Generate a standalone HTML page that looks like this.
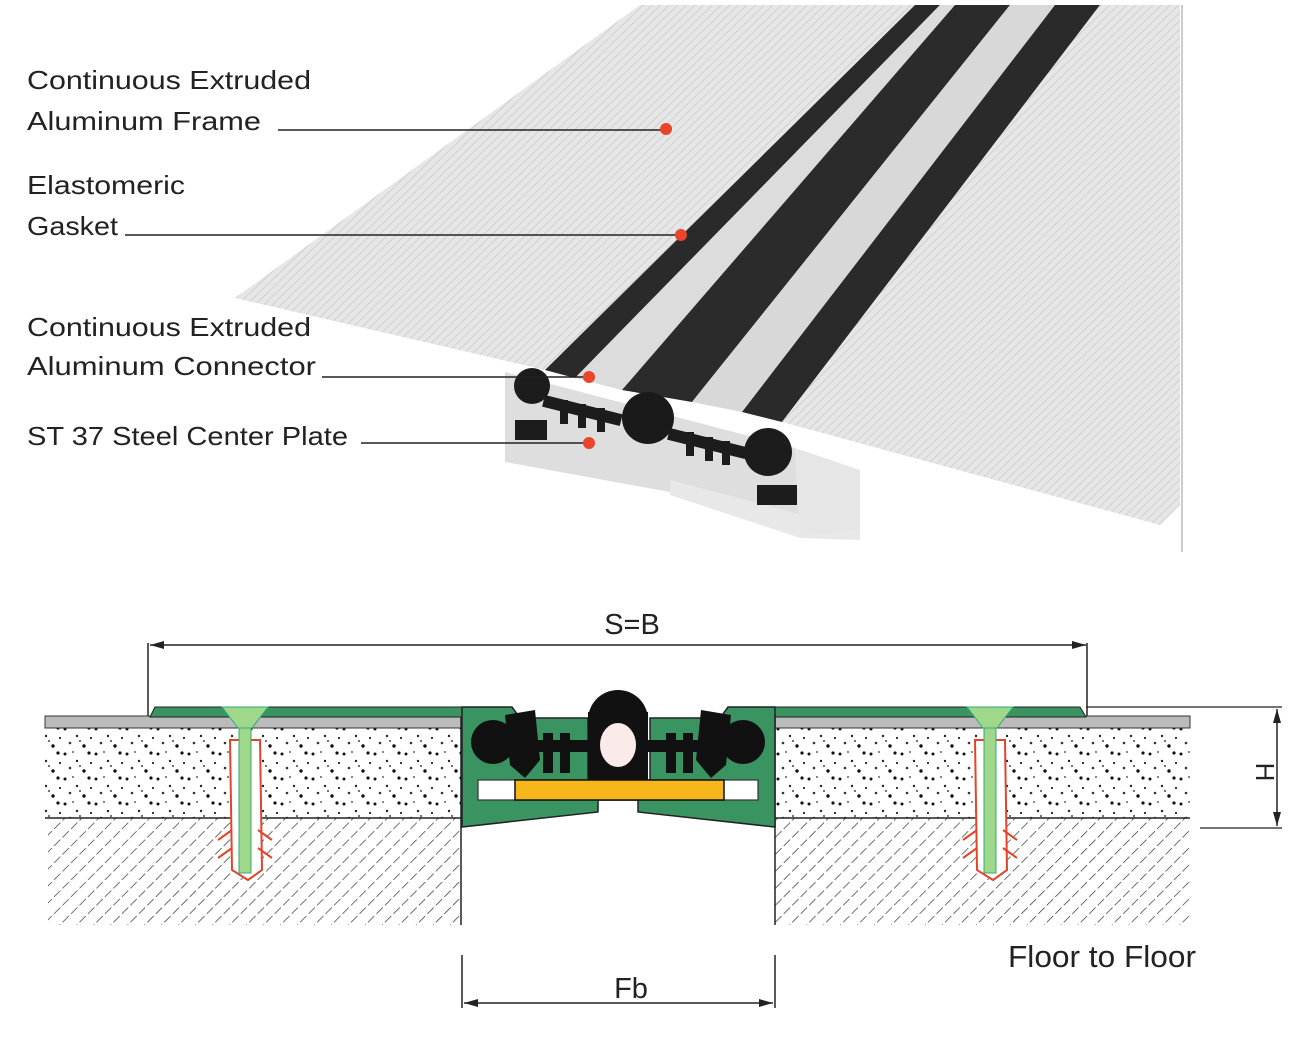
<!DOCTYPE html>
<html><head><style>
html,body{margin:0;padding:0;background:#fff;}
svg{display:block;}
text{font-family:"Liberation Sans",sans-serif;}
</style></head><body>
<svg width="1308" height="1037" viewBox="0 0 1308 1037" xmlns="http://www.w3.org/2000/svg">
<defs>
<pattern id="hatch" width="12" height="12" patternUnits="userSpaceOnUse" patternTransform="rotate(45)">
<line x1="0" y1="0" x2="0" y2="12" stroke="#333" stroke-width="1.4" stroke-dasharray="8,3"/>
</pattern>
<pattern id="speck" width="31" height="25" patternUnits="userSpaceOnUse">
<rect width="31" height="25" fill="#fff"/>
<circle cx="3" cy="4" r="1.5" fill="#111"/><circle cx="15" cy="11" r="1.2" fill="#222"/>
<circle cx="27" cy="3" r="1.6" fill="#111"/><circle cx="8" cy="18" r="1.3" fill="#333"/>
<circle cx="22" cy="21" r="1.7" fill="#111"/><circle cx="29" cy="13" r="1.1" fill="#222"/>
<circle cx="18" cy="16" r="1" fill="#444"/><circle cx="11" cy="2" r="0.9" fill="#333"/>
</pattern>
<pattern id="ribs" width="6" height="6" patternUnits="userSpaceOnUse" patternTransform="rotate(-44)">
<rect width="6" height="6" fill="#e6e6e6"/><line x1="0" y1="0" x2="6" y2="0" stroke="#d0d0d0" stroke-width="2"/>
</pattern>
<marker id="ar" markerWidth="14" markerHeight="8" refX="14" refY="4" orient="auto-start-reverse" markerUnits="userSpaceOnUse">
<path d="M0,0 L14,4 L0,8 z" fill="#222"/>
</marker>
</defs>

<polygon points="640,5 915,5 545,370 235,298" fill="url(#ribs)"/>
<polygon points="915,5 940,5 575,378 545,370" fill="#2a2a2a"/>
<polygon points="940,5 955,5 622,390 575,378" fill="#dcdcdc"/>
<polygon points="955,5 1010,5 692,402 622,390" fill="#2b2b2b"/>
<polygon points="1010,5 1055,5 742,412 692,402" fill="#d8d8d8"/>
<polygon points="1055,5 1100,5 782,422 742,412" fill="#2a2a2a"/>
<polygon points="1100,5 1180,5 1180,505 1160,525 782,422" fill="url(#ribs)"/>
<line x1="1182" y1="5" x2="1182" y2="552" stroke="#ccc" stroke-width="2"/>
<polygon points="505,372 795,448 800,535 670,492 505,462" fill="#dedede"/>
<polygon points="670,480 860,530 860,540 800,538 670,495" fill="#e8e8e8"/>
<polygon points="795,448 860,470 860,530 800,535" fill="#e6e6e6"/>
<circle cx="532" cy="386" r="18" fill="#1c1c1c"/>
<rect x="545" y="395" width="80" height="12" fill="#1c1c1c" transform="rotate(14 545 395)"/>
<rect x="560" y="400" width="8" height="24" fill="#1c1c1c"/><rect x="578" y="404" width="8" height="24" fill="#1c1c1c"/><rect x="597" y="408" width="8" height="24" fill="#1c1c1c"/>
<circle cx="648" cy="418" r="26" fill="#1a1a1a"/>
<rect x="670" y="428" width="80" height="12" fill="#1c1c1c" transform="rotate(14 670 428)"/>
<rect x="686" y="432" width="8" height="24" fill="#1c1c1c"/><rect x="705" y="437" width="8" height="24" fill="#1c1c1c"/><rect x="722" y="441" width="8" height="24" fill="#1c1c1c"/>
<circle cx="768" cy="452" r="24" fill="#1c1c1c"/>
<rect x="515" y="420" width="32" height="20" fill="#1c1c1c"/>
<rect x="757" y="485" width="40" height="20" fill="#1c1c1c"/>

<g font-size="26" fill="#222" lengthAdjust="spacingAndGlyphs">
<text x="27" y="89" textLength="284" lengthAdjust="spacingAndGlyphs">Continuous Extruded</text>
<text x="27" y="130" textLength="234" lengthAdjust="spacingAndGlyphs">Aluminum Frame</text>
<text x="27" y="194" textLength="158" lengthAdjust="spacingAndGlyphs">Elastomeric</text>
<text x="27" y="235" textLength="91" lengthAdjust="spacingAndGlyphs">Gasket</text>
<text x="27" y="336" textLength="284" lengthAdjust="spacingAndGlyphs">Continuous Extruded</text>
<text x="27" y="375" textLength="289" lengthAdjust="spacingAndGlyphs">Aluminum Connector</text>
<text x="27" y="445" textLength="321" lengthAdjust="spacingAndGlyphs">ST 37 Steel Center Plate</text>
</g>
<g stroke="#222" stroke-width="1.6">
<line x1="278" y1="130" x2="665" y2="130"/>
<line x1="125" y1="235" x2="680" y2="235"/>
<line x1="322" y1="377" x2="588" y2="377"/>
<line x1="361" y1="443" x2="588" y2="443"/>
</g>
<g fill="#e8452b">
<circle cx="666" cy="129" r="6"/><circle cx="681" cy="235" r="6"/><circle cx="589" cy="377" r="6"/><circle cx="589" cy="443" r="6"/>
</g>

<text x="632" y="634" font-size="29" text-anchor="middle" fill="#222">S=B</text>
<line x1="150" y1="645" x2="1086" y2="645" stroke="#222" stroke-width="1.5" marker-start="url(#ar)" marker-end="url(#ar)"/>
<line x1="148" y1="643" x2="148" y2="716" stroke="#222" stroke-width="1.5"/>
<line x1="1087" y1="643" x2="1087" y2="716" stroke="#222" stroke-width="1.5"/>

<rect x="45" y="728" width="416" height="90" fill="url(#speck)"/>
<rect x="775" y="728" width="415" height="90" fill="url(#speck)"/>
<rect x="48" y="818" width="413" height="107" fill="url(#hatch)"/>
<rect x="775" y="818" width="415" height="107" fill="url(#hatch)"/>
<rect x="45" y="716" width="416" height="12" fill="#bbb" stroke="#333" stroke-width="1"/>
<rect x="775" y="716" width="415" height="12" fill="#bbb" stroke="#333" stroke-width="1"/>
<line x1="45" y1="818" x2="461" y2="818" stroke="#222" stroke-width="1.5"/>
<line x1="775" y1="818" x2="1190" y2="818" stroke="#222" stroke-width="1.5"/>
<line x1="461" y1="716" x2="461" y2="925" stroke="#222" stroke-width="1.5"/>
<line x1="775" y1="716" x2="775" y2="925" stroke="#222" stroke-width="1.5"/>
<path d="M150,717 L155,707 L462,707 L462,717 Z" fill="#3a9462" stroke="#222" stroke-width="1"/>
<path d="M775,707 L1080,707 L1086,717 L775,717 Z" fill="#3a9462" stroke="#222" stroke-width="1"/>
<g>
<path d="M222,707 L268,707 L252,728 L238,728 Z" fill="#9fd88a" stroke="#3a7" stroke-width="1"/>
<path d="M230,740 L260,740 L262,870 L248,880 L232,870 Z" fill="#fff" stroke="#e3442a" stroke-width="2"/>
<path d="M232,830 l-14,10 M258,830 l14,10 M232,848 l-14,10 M258,848 l14,10" stroke="#e3442a" stroke-width="2"/>
<rect x="239" y="728" width="12" height="145" fill="#9fd88a" stroke="#3a7"/>
<path d="M967,707 L1013,707 L997,728 L983,728 Z" fill="#9fd88a" stroke="#3a7" stroke-width="1"/>
<path d="M975,740 L1005,740 L1007,870 L993,880 L977,870 Z" fill="#fff" stroke="#e3442a" stroke-width="2"/>
<path d="M977,830 l-14,10 M1003,830 l14,10 M977,848 l-14,10 M1003,848 l14,10" stroke="#e3442a" stroke-width="2"/>
<rect x="984" y="728" width="12" height="145" fill="#9fd88a" stroke="#3a7"/>
</g>
<path d="M462,707 L512,707 L520,718 L588,718 L588,780 L650,780 L650,718 L720,718 L728,707 L775,707 L775,827 L638,812 L638,800 L598,800 L598,812 L462,827 Z" fill="#3a9462" stroke="#222" stroke-width="1.5"/>
<rect x="478" y="780" width="280" height="20" fill="#fff" stroke="#333" stroke-width="1.2"/>
<rect x="515" y="780" width="209" height="20" fill="#f7b61b" stroke="#111" stroke-width="1.5"/>
<circle cx="493" cy="742" r="22" fill="#111"/>
<path d="M505,715 L535,710 L540,760 L525,778 L510,765 Z" fill="#111"/>
<circle cx="743" cy="742" r="22" fill="#111"/>
<path d="M731,715 L701,710 L696,760 L711,778 L726,765 Z" fill="#111"/>
<rect x="535" y="740" width="55" height="12" fill="#111"/>
<rect x="645" y="740" width="55" height="12" fill="#111"/>
<rect x="543" y="733" width="10" height="40" fill="#111"/><rect x="560" y="733" width="10" height="40" fill="#111"/>
<rect x="666" y="733" width="10" height="40" fill="#111"/><rect x="683" y="733" width="10" height="40" fill="#111"/>
<rect x="588" y="712" width="60" height="68" fill="#111"/>
<circle cx="618" cy="720" r="30" fill="#111"/>
<ellipse cx="618" cy="745" rx="18" ry="22" fill="#fbeaea"/>

<line x1="1086" y1="707" x2="1282" y2="707" stroke="#222" stroke-width="1.3"/>
<line x1="1200" y1="828" x2="1282" y2="828" stroke="#222" stroke-width="1.3"/>
<line x1="1277" y1="709" x2="1277" y2="826" stroke="#222" stroke-width="1.5" marker-start="url(#ar)" marker-end="url(#ar)"/>
<text x="1265" y="772" font-size="26" text-anchor="middle" fill="#222" transform="rotate(90 1265 772)" dy="9">H</text>

<text x="1008" y="967" font-size="31" fill="#222" textLength="188" lengthAdjust="spacingAndGlyphs">Floor to Floor</text>
<line x1="462" y1="955" x2="462" y2="1008" stroke="#222" stroke-width="1.5"/>
<line x1="775" y1="955" x2="775" y2="1008" stroke="#222" stroke-width="1.5"/>
<line x1="464" y1="1003" x2="773" y2="1003" stroke="#222" stroke-width="1.5" marker-start="url(#ar)" marker-end="url(#ar)"/>
<text x="631" y="998" font-size="29" text-anchor="middle" fill="#222">Fb</text>
</svg>
</body></html>
